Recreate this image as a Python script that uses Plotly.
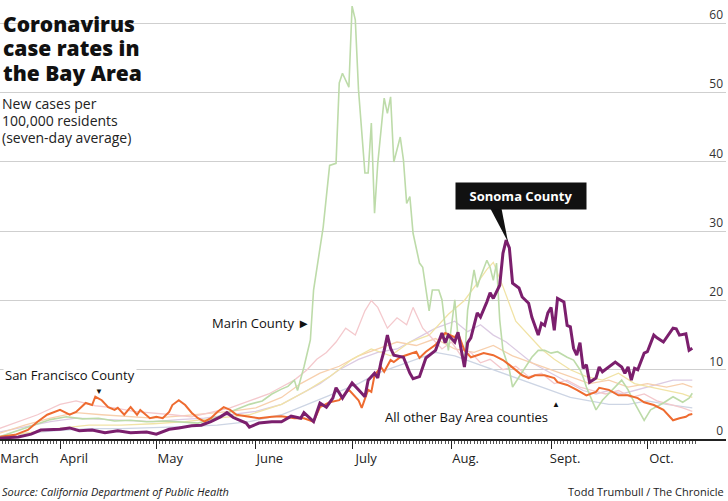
import pandas as pd
import plotly.graph_objects as go

START = pd.Timestamp("2020-03-01")

# Дни от 1 марта 2020 и значения: новые случаи на 100 000 жителей (среднее за 7 дней)
sonoma_day = [12, 18, 22, 25, 31, 34, 37, 41, 45, 49, 53, 58, 61, 65, 68, 72, 75, 78, 81, 83,
              85, 89, 90, 93, 97, 100, 103, 106, 107, 110, 112, 114, 116, 117, 119, 120, 122, 124, 126, 127,
              129, 130, 131, 132, 133, 134, 135, 138, 140, 141, 143, 145, 147, 148, 150, 151, 152, 154, 155, 157,
              158, 159, 161, 162, 164, 165, 166, 168, 169, 170, 171, 172, 174, 175, 177, 178, 180, 181, 182, 183,
              184, 185, 186, 188, 189, 190, 191, 192, 193, 194, 195, 196, 198, 199, 200, 202, 204, 206, 207, 208,
              209, 210, 211, 213, 214, 216, 217, 219, 221, 222, 223, 224, 226, 227, 228]
sonoma_val = [0.1, 0.3, 0.7, 1.3, 1.4, 1.6, 1.2, 1.3, 0.9, 1.2, 0.9, 1.0, 0.7, 1.4, 1.6, 1.9, 2.0, 2.5, 3.2, 3.8,
              3.1, 2.3, 1.7, 2.3, 2.5, 2.5, 3.3, 3.0, 3.8, 2.5, 5.2, 4.6, 5.9, 7.4, 5.9, 6.6, 8.1, 7.1, 6.1, 8.5,
              9.5, 8.8, 11.1, 12.8, 15.0, 13.1, 12.1, 11.8, 9.5, 8.7, 9.0, 11.7, 12.4, 12.8, 15.3, 13.9, 15.0, 14.0, 15.4, 10.4,
              13.9, 14.6, 18.2, 17.6, 19.8, 21.1, 20.3, 22.2, 26.8, 28.7, 27.6, 22.5, 21.8, 20.5, 19.6, 17.6, 15.0, 16.7, 16.4, 18.2,
              19.0, 15.7, 20.3, 19.8, 16.4, 16.2, 13.1, 12.1, 13.9, 10.2, 10.7, 8.2, 8.8, 10.4, 9.7, 10.4, 11.1, 10.4, 9.5, 10.4,
              8.5, 10.2, 10.0, 12.4, 12.6, 15.0, 14.6, 14.0, 15.4, 16.0, 15.9, 15.0, 15.2, 12.8, 13.1]

sf_day = [12, 17, 21, 24, 27, 29, 31, 34, 36, 39, 41, 42, 44, 46, 48, 49, 51, 53, 55, 56,
          57, 59, 61, 63, 65, 66, 68, 70, 72, 74, 76, 78, 80, 82, 84, 86, 90, 93, 97, 100,
          104, 107, 110, 112, 115, 118, 121, 124, 125, 127, 128, 129, 131, 132, 134, 135, 137, 139, 142, 143,
          145, 148, 151, 154, 155, 157, 159, 161, 163, 166, 169, 171, 173, 175, 177, 179, 182, 185, 186, 189,
          192, 195, 198, 199, 202, 205, 208, 211, 213, 216, 219, 221, 222, 224, 226, 227, 228]
sf_val = [0.3, 0.6, 1.3, 2.5, 3.5, 3.9, 4.2, 3.5, 3.9, 5.2, 4.9, 6.1, 5.6, 4.6, 4.2, 4.5, 3.5, 4.6, 3.5, 4.2,
          3.8, 3.0, 3.2, 3.0, 3.9, 4.9, 5.6, 4.9, 3.8, 3.0, 2.5, 3.0, 3.9, 4.6, 4.2, 3.5, 3.2, 3.0, 3.2, 3.3,
          3.0, 3.0, 2.5, 4.6, 5.3, 5.6, 7.1, 5.6, 4.5, 7.1, 6.8, 9.2, 10.4, 9.7, 11.4, 11.1, 11.8, 12.1, 12.6, 11.7,
          12.6, 13.6, 15.3, 14.7, 15.3, 12.8, 11.8, 12.1, 12.4, 12.1, 11.4, 10.7, 10.0, 9.2, 8.8, 9.2, 9.2, 8.8, 8.2, 7.8,
          7.1, 6.3, 6.8, 7.4, 7.1, 6.3, 6.3, 5.9, 5.3, 4.9, 4.2, 3.2, 2.7, 3.0, 3.2, 3.5, 3.6]

marin_day = [12, 18, 24, 28, 33, 38, 43, 48, 53, 58, 64, 69, 74, 78, 82, 86, 90, 94, 97, 100,
             102, 104, 105, 107, 109, 110, 113, 115, 117, 118, 119, 121, 122, 123, 124, 126, 127, 128, 129, 130,
             132, 133, 134, 135, 137, 138, 139, 140, 141, 143, 144, 146, 147, 149, 150, 151, 152, 154, 155, 157,
             158, 160, 161, 162, 164, 165, 166, 167, 168, 169, 171, 172, 174, 176, 178, 180, 182, 184, 186, 189,
             191, 193, 194, 195, 198, 200, 203, 206, 208, 210, 213, 215, 219, 222, 225, 227, 228]
marin_val = [0.3, 1.2, 2.2, 2.8, 3.2, 2.9, 3.0, 2.6, 2.7, 2.5, 2.6, 2.4, 2.3, 2.8, 3.5, 4.3, 5.0, 5.5, 6.5, 7.2,
             7.6, 8.5, 7.0, 10.4, 14.3, 21.5, 30.6, 39.5, 39.8, 51.4, 52.8, 50.8, 62.5, 60.5, 50.4, 38.4, 38.4, 45.6, 32.6, 39.8,
             49.2, 47.0, 49.4, 40.0, 43.6, 40.3, 34.0, 35.0, 29.7, 25.4, 24.8, 18.5, 21.5, 21.5, 20.1, 16.2, 12.8, 20.1, 14.7, 11.0,
             18.6, 24.4, 21.9, 23.4, 25.8, 24.8, 22.9, 25.4, 17.2, 12.8, 10.0, 7.5, 8.9, 10.4, 11.8, 12.8, 12.8, 12.4, 12.6, 11.8,
             11.4, 10.0, 8.9, 7.5, 4.2, 5.6, 7.1, 8.5, 7.1, 5.2, 2.7, 4.2, 5.2, 6.1, 5.3, 5.9, 6.6]

# остальные округа (бледные линии)
pink_day = [12, 18, 24, 31, 36, 42, 48, 54, 60, 66, 72, 78, 84, 90, 96, 100, 104, 108, 111, 114,
            117, 120, 123, 126, 128, 130, 133, 136, 139, 141, 144, 147, 150, 153, 156, 159, 162, 165, 169, 173,
            177, 181, 185, 189, 193, 197, 201, 205, 209, 213, 217, 221, 225, 228]
pink_val = [1.5, 2.5, 3.5, 5.0, 5.5, 4.8, 4.5, 4.0, 3.8, 3.5, 3.2, 3.8, 4.5, 5.5, 6.5, 7.5, 8.5, 10.0, 11.5, 12.5,
            14.0, 16.0, 15.0, 18.5, 20.0, 19.0, 16.0, 17.5, 16.5, 19.0, 16.0, 14.5, 13.0, 14.0, 12.0, 12.5, 11.0, 11.5, 10.0, 10.5,
            9.0, 9.5, 8.0, 8.5, 7.5, 7.0, 6.5, 7.0, 6.0, 6.5, 5.5, 5.0, 4.5, 4.0]

yellow_day = [12, 20, 30, 40, 50, 60, 70, 80, 90, 100, 108, 115, 122, 128, 134, 140, 146, 152, 157, 161,
              164, 166, 169, 173, 177, 181, 185, 190, 195, 200, 205, 210, 215, 220, 225, 228]
yellow_val = [0.3, 0.8, 1.5, 2.0, 2.0, 2.2, 2.5, 3.0, 3.5, 5.0, 7.0, 9.0, 11.5, 13.0, 12.0, 14.0, 15.0, 18.0, 20.0, 22.5,
              24.5, 25.5, 22.0, 17.0, 15.0, 13.0, 11.5, 10.0, 9.0, 8.5, 9.5, 8.0, 7.5, 7.0, 6.5, 6.0]

peach_day = [12, 20, 28, 36, 44, 52, 60, 68, 76, 84, 92, 100, 106, 112, 118, 124, 130, 136, 142, 148,
             154, 160, 166, 172, 178, 184, 190, 196, 202, 208, 214, 220, 225, 228]
peach_val = [0.8, 2.0, 3.0, 3.8, 3.5, 3.2, 3.0, 3.3, 3.6, 4.0, 4.5, 6.0, 8.0, 9.5, 10.5, 12.0, 13.0, 14.0, 13.5, 14.5,
             13.0, 12.5, 13.5, 12.0, 11.0, 10.0, 9.0, 8.0, 8.5, 7.5, 8.0, 7.5, 8.0, 7.5]

lavender_day = [12, 20, 28, 36, 44, 52, 60, 68, 76, 84, 92, 100, 106, 112, 118, 124, 130, 136, 142, 148,
                154, 158, 162, 166, 170, 174, 178, 182, 186, 190, 194, 198, 202, 206, 210, 214, 218, 222, 226, 228]
lavender_val = [1.0, 1.8, 2.5, 3.0, 2.8, 2.7, 2.5, 2.8, 3.0, 3.5, 4.0, 5.0, 6.5, 8.0, 10.0, 11.5, 12.5, 13.0, 14.5, 16.0,
                17.0, 15.5, 16.5, 15.0, 14.0, 12.5, 11.0, 10.0, 9.0, 8.0, 7.0, 6.5, 7.0, 6.5, 7.0, 7.5, 8.0, 8.5, 8.5, 8.5]

grey_day = [12, 20, 30, 40, 50, 60, 70, 80, 90, 100, 108, 116, 124, 130, 136, 142, 148, 154, 160, 166,
            172, 178, 184, 190, 196, 202, 208, 214, 220, 228]
grey_val = [0.3, 0.8, 1.2, 1.5, 1.5, 1.6, 1.8, 2.0, 2.5, 3.5, 5.0, 6.5, 8.0, 9.5, 10.5, 11.5, 12.5, 12.0, 11.0, 10.0,
            9.0, 8.0, 7.0, 6.0, 5.5, 5.0, 5.0, 5.5, 5.0, 4.5]

month_ticks = ["2020-04-01", "2020-05-01", "2020-06-01", "2020-07-01",
               "2020-08-01", "2020-09-01", "2020-10-01"]
label_ticks = ["2020-03-15"] + month_ticks
label_text = ["March", "April", "May", "June", "July", "Aug.", "Sept.", "Oct."]
y_ticks = [0, 10, 20, 30, 40, 50, 60]


def to_dates(days):
    return START + pd.to_timedelta(days, unit="D")


W, H = 728, 501
L, R, T, B = 0, 2, 4, 62
PW = W - L - R
PH = H - T - B


# пиксели картинки -> координаты paper
def px(x):
    return (x - L) / PW


def py(y):
    return (H - B - y) / PH


FONT = "'Open Sans', sans-serif"

fig = go.Figure()

others = [
    ("Alameda", grey_day, grey_val, "#cdd5e4"),
    ("Contra Costa", lavender_day, lavender_val, "#dccbe3"),
    ("San Mateo", peach_day, peach_val, "#f7d0ae"),
    ("Santa Clara", yellow_day, yellow_val, "#f1e3a6"),
    ("Solano", pink_day, pink_val, "#f4c9cd"),
]
for name, d, v, c in others:
    fig.add_trace(go.Scatter(x=to_dates(d), y=v, mode="lines", name=name,
                             line=dict(color=c, width=1.3)))

fig.add_trace(go.Scatter(x=to_dates(marin_day), y=marin_val, mode="lines", name="Marin",
                         line=dict(color="#bddba9", width=1.6)))
fig.add_trace(go.Scatter(x=to_dates(sf_day), y=sf_val, mode="lines", name="San Francisco",
                         line=dict(color="#ee6b30", width=2)))
fig.add_trace(go.Scatter(x=to_dates(sonoma_day), y=sonoma_val, mode="lines", name="Sonoma",
                         line=dict(color="#7b1f6d", width=3)))
# пустая линия для второй оси (подписи месяцев)
fig.add_trace(go.Scatter(x=[], y=[], xaxis="x2", showlegend=False, hoverinfo="skip"))

x_range = [START + pd.Timedelta(hours=12.3 * 24), START + pd.Timedelta(hours=238.5 * 24)]
daily = pd.date_range("2020-03-13", "2020-10-16", freq="D")

annotations = []
title_lines = ["Coronavirus", "case rates in", "the Bay Area"]
for i, t in enumerate(title_lines):
    annotations.append(dict(text=t, x=px(1), y=py(24 + 24.3 * i), xanchor="left", yanchor="middle",
                            font=dict(family=FONT, size=21, color="#111", weight=800)))
sub_lines = ["New cases per", "100,000 residents", "(seven-day average)"]
for i, t in enumerate(sub_lines):
    annotations.append(dict(text=t, x=px(0), y=py(103 + 17 * i), xanchor="left", yanchor="middle",
                            font=dict(family=FONT, size=14, color="#222")))

annotations += [
    dict(text="Marin County ►", x=px(210), y=py(323), xanchor="left", yanchor="middle",
         font=dict(family=FONT, size=13, color="#111")),
    dict(text="San Francisco County", x=px(3), y=py(375), xanchor="left", yanchor="middle",
         bgcolor="white", font=dict(family=FONT, size=13, color="#111")),
    dict(text="▼", x=px(99), y=py(390), xanchor="center", yanchor="middle",
         font=dict(family=FONT, size=8, color="#111")),
    dict(text="All other Bay Area counties", x=px(383), y=py(417), xanchor="left", yanchor="middle",
         font=dict(family=FONT, size=13, color="#111")),
    dict(text="▲", x=px(556), y=py(403), xanchor="center", yanchor="middle",
         font=dict(family=FONT, size=8, color="#111")),
    dict(text="<b>Sonoma County</b>", x=px(521), y=py(196), xanchor="center", yanchor="middle",
         bgcolor="#111", borderpad=4, width=122,
         font=dict(family=FONT, size=13, color="white")),
    dict(text="<i>Source: California Department of Public Health</i>", x=px(0), y=py(491),
         xanchor="left", yanchor="middle", font=dict(family=FONT, size=11, color="#222")),
    dict(text="Todd Trumbull / The Chronicle", x=px(726), y=py(491),
         xanchor="right", yanchor="middle", font=dict(family=FONT, size=11, color="#222")),
]
for a in annotations:
    a.setdefault("xref", "paper")
    a.setdefault("yref", "paper")
    a.setdefault("showarrow", False)

shapes = [
    # белая подложка под заголовком (скрывает сетку)
    dict(type="rect", xref="paper", yref="paper", x0=px(0), x1=px(170), y0=py(168), y1=py(0),
         fillcolor="white", line=dict(width=0), layer="between"),
    # хвостик выноски Sonoma County
    dict(type="path", xref="paper", yref="paper",
         path=f"M {px(489)},{py(206)} L {px(501)},{py(206)} L {px(508)},{py(242)} Z",
         fillcolor="#111", line=dict(width=0), layer="above"),
]

fig.update_layout(
    width=W, height=H,
    margin=dict(l=L, r=R, t=T, b=B),
    paper_bgcolor="white", plot_bgcolor="white",
    showlegend=False,
    font=dict(family=FONT, color="#222"),
    annotations=annotations,
    shapes=shapes,
    xaxis=dict(
        type="date", range=x_range, tickvals=month_ticks, showticklabels=False,
        ticks="outside", ticklen=8, tickwidth=1, tickcolor="#222",
        showline=True, linecolor="#222", linewidth=1.5, showgrid=False, zeroline=False,
        minor=dict(tickvals=list(daily), ticks="outside", ticklen=3, tickwidth=1,
                   tickcolor="#555", showgrid=False),
    ),
    xaxis2=dict(
        type="date", overlaying="x", anchor="y", side="bottom", range=x_range,
        tickvals=label_ticks, ticktext=label_text, ticks="", showline=False,
        showgrid=False, zeroline=False, ticklabelshift=14, ticklabelstandoff=10,
        tickfont=dict(family=FONT, size=13, color="#222"),
    ),
    yaxis=dict(
        range=[0, 62.8], side="right", tickvals=y_ticks, ticklabelposition="inside top",
        tickfont=dict(family=FONT, size=12, color="#333"),
        showgrid=True, gridcolor="#cfcfcf", gridwidth=1, zeroline=False, ticks="",
        showline=False,
    ),
)

# убираем стандартный отступ body, чтобы картинка была ровно 728x501
fig.write_html("out.html", config={"displayModeBar": False},
               post_script="document.body.style.margin='0';")
